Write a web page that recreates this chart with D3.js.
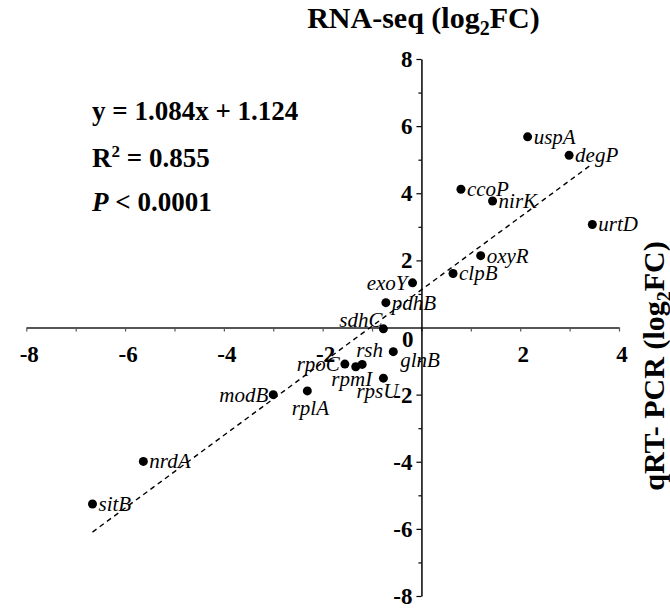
<!DOCTYPE html>
<html>
<head>
<meta charset="utf-8">
<script src="https://cdn.jsdelivr.net/npm/d3@7"></script>
<style>
  body { margin: 0; background: #fff; }
  svg { display: block; font-family: "Liberation Serif", "Times New Roman", serif; }
</style>
</head>
<body>
<svg id="canvas" width="670" height="612"></svg>
<script>
// genes, qRT-PCR log2FC (x) and RNA-seq log2FC (y)
let genes = ["uspA", "degP", "ccoP", "nirK", "urtD", "oxyR", "clpB", "exoY", "pdhB", "sdhC",
             "glnB", "rsh", "rpmI", "rpoC", "rpsU", "rplA", "modB", "nrdA", "sitB"]
let qpcrValues = [2.15, 2.99, 0.80, 1.44, 3.46, 1.20, 0.64, -0.18, -0.72, -0.77,
                  -0.57, -1.20, -1.33, -1.55, -0.77, -2.31, -3.00, -5.63, -6.66]
let rnaseqValues = [5.68, 5.13, 4.12, 3.77, 3.07, 2.14, 1.61, 1.33, 0.74, -0.04,
                    -0.72, -1.10, -1.17, -1.09, -1.51, -1.89, -2.00, -3.99, -5.26]
// where each label sits relative to its dot
let labelSide = ["r", "r", "r", "r", "r", "r", "r", "l", "r", "ul",
                 "dr", "u", "dm", "l", "dl", "d", "l", "r", "r"]

let xTickLabels = [-8, -6, -4, -2, 2, 4]
let yTickLabels = [8, 6, 4, 2, -2, -4, -6, -8]
let slope = 1.084
let intercept = 1.124

let canvas = d3.select("#canvas")

let x = d3.scaleLinear().domain([-8, 4]).range([26.3, 619])
let y = d3.scaleLinear().domain([-8, 8]).range([596, 59])

let x0 = x(0)
let y0 = y(0)

// horizontal axis (grey)
let xAxis = d3.axisBottom(x)
    .tickValues(d3.range(-8, 5))
    .tickSize(4)
    .tickSizeOuter(0)
    .tickFormat("")

let xg = canvas.append("g")
    .attr("transform", "translate(0," + y0 + ")")
    .call(xAxis)
xg.select(".domain").attr("stroke", "#555").attr("stroke-width", 2)
xg.selectAll(".tick line").attr("stroke", "#555").attr("stroke-width", 1.2)

canvas.append("g")
    .selectAll("text")
    .data(xTickLabels)
    .enter()
    .append("text")
    .attr("x", (d) => x(d) + 3)
    .attr("y", y0 + 34)
    .attr("text-anchor", "middle")
    .attr("font-size", "23px")
    .attr("font-weight", "bold")
    .text((d) => d)

// vertical axis (black)
let yAxis = d3.axisLeft(y)
    .tickValues(d3.range(-8, 9).filter((d) => d !== 0))
    .tickSize(4)
    .tickSizeOuter(0)
    .tickFormat("")

let yg = canvas.append("g")
    .attr("transform", "translate(" + x0 + ",0)")
    .call(yAxis)
yg.select(".domain").attr("stroke", "#000").attr("stroke-width", 1.5)
yg.selectAll(".tick line")
    .attr("stroke", "#000")
    .attr("stroke-width", 1.2)
    .attr("x2", (d) => d % 2 === 0 ? -5 : -3)

canvas.append("g")
    .selectAll("text")
    .data(yTickLabels)
    .enter()
    .append("text")
    .attr("x", x0 - 9)
    .attr("y", (d) => y(d) + 8)
    .attr("text-anchor", "end")
    .attr("font-size", "23px")
    .attr("font-weight", "bold")
    .text((d) => d)

// shared origin label
canvas.append("text")
    .attr("x", x0 - 8)
    .attr("y", y0 + 19)
    .attr("text-anchor", "end")
    .attr("font-size", "23px")
    .attr("font-weight", "bold")
    .text("0")

// fitted line over the range of the data
let xExtent = d3.extent(qpcrValues)
canvas.append("line")
    .attr("x1", x(xExtent[0]))
    .attr("y1", y(slope * xExtent[0] + intercept))
    .attr("x2", x(xExtent[1]))
    .attr("y2", y(slope * xExtent[1] + intercept))
    .attr("stroke", "#000")
    .attr("stroke-width", 1.4)
    .attr("stroke-dasharray", "5,4")

// points
let points = genes.map((g, i) => ({ name: g, qx: qpcrValues[i], ry: rnaseqValues[i], side: labelSide[i] }))

canvas.append("g")
    .selectAll("circle")
    .data(points)
    .enter()
    .append("circle")
    .attr("cx", (d) => x(d.qx))
    .attr("cy", (d) => y(d.ry))
    .attr("r", 4.5)
    .attr("fill", "#000")

let offsets = {
    r: [6, 7, "start"],
    l: [-5, 7, "end"],
    ul: [-1, -2, "end"],
    dr: [7, 15, "start"],
    u: [-6, -7, "start"],
    dm: [-4, 19, "middle"],
    dl: [-6, 20, "middle"],
    d: [3, 24, "middle"]
}

canvas.append("g")
    .selectAll("text")
    .data(points)
    .enter()
    .append("text")
    .attr("x", (d) => x(d.qx) + offsets[d.side][0])
    .attr("y", (d) => y(d.ry) + offsets[d.side][1])
    .attr("text-anchor", (d) => offsets[d.side][2])
    .attr("font-size", "21px")
    .attr("font-style", "italic")
    .text((d) => d.name)

// regression statistics
let stats = canvas.append("g")
    .attr("font-size", "27px")
    .attr("font-weight", "bold")

stats.append("text").attr("x", 92).attr("y", 120).text("y = 1.084x + 1.124")

let r2 = stats.append("text").attr("x", 92).attr("y", 167)
r2.append("tspan").text("R")
r2.append("tspan").attr("dy", -10).attr("font-size", "17px").text("2")
r2.append("tspan").attr("dy", 10).text(" = 0.855")

let p = stats.append("text").attr("x", 92).attr("y", 211)
p.append("tspan").attr("font-style", "italic").text("P")
p.append("tspan").text(" < 0.0001")

// axis titles
let topTitle = canvas.append("text")
    .attr("x", x0 + 2)
    .attr("y", 28)
    .attr("text-anchor", "middle")
    .attr("font-size", "30px")
    .attr("font-weight", "bold")
topTitle.append("tspan").text("RNA-seq (log")
topTitle.append("tspan").attr("dy", 7).attr("font-size", "20px").text("2")
topTitle.append("tspan").attr("dy", -7).text("FC)")

let sideTitle = canvas.append("text")
    .attr("transform", "translate(664,366) rotate(-90)")
    .attr("text-anchor", "middle")
    .attr("font-size", "30px")
    .attr("font-weight", "bold")
sideTitle.append("tspan").text("qRT- PCR (log")
sideTitle.append("tspan").attr("dy", 7).attr("font-size", "20px").text("2")
sideTitle.append("tspan").attr("dy", -7).text("FC)")
</script>
</body>
</html>
